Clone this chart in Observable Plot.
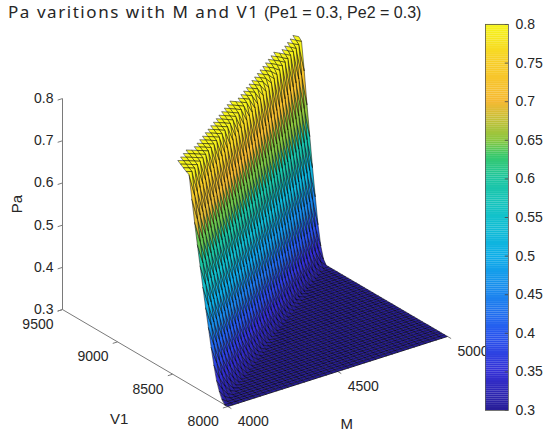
<!DOCTYPE html>
<html><head><meta charset="utf-8">
<script src="https://cdn.jsdelivr.net/npm/d3@7"></script>
<script src="https://cdn.jsdelivr.net/npm/@observablehq/plot@0.6"></script>
<style>
body{margin:0;background:#fff;}
#wrap{position:relative;width:550px;height:438px;overflow:hidden;font-family:"Liberation Sans",Arial,sans-serif;}
#title{position:absolute;left:8px;top:0px;white-space:nowrap;color:#262626;line-height:24px;}
#title .t1{font-family:"Noto Sans",sans-serif;font-size:17px;letter-spacing:1.55px;}
#title .t2{font-family:"Liberation Sans",Arial,sans-serif;font-size:16px;}
#main{position:absolute;left:0;top:0;}
#cbar{position:absolute;left:470px;top:0;}
</style></head><body>
<div id="wrap">
  <div id="main"></div>
  <div id="cbar"></div>
  <div id="title"><span class="t1">Pa varitions with M and V1</span> <span class="t2">(Pe1 = 0.3, Pe2 = 0.3)</span></div>
</div>
<script>
// ---------------- data ----------------
const Mgrid  = d3.range(4000, 5001, 25);      // surface grid in M
const V1grid = d3.range(8000, 9501, 25);      // surface grid in V1
const wallM        = [4000, 5000];            // wall foot (t = 0) and top of the rise (t = 1) at both ends of M
const wallStartV1  = [8000, 9090];
const wallEndV1    = [8350, 9320];
const profileT  = [0, 0.1, 0.2, 0.3, 0.4, 0.5, 0.6, 0.7, 0.8, 0.9, 1, 1.3];   // position across the wall
const profilePa = [0.30, 0.30, 0.32, 0.35, 0.40, 0.46, 0.52, 0.585, 0.65, 0.72, 0.795, 0.815];
const Mticks  = [4000, 4500, 5000];
const V1ticks = [8000, 8500, 9000, 9500];
const PaTicks = [0.3, 0.4, 0.5, 0.6, 0.7, 0.8];
const cbTicks = [0.3, 0.35, 0.4, 0.45, 0.5, 0.55, 0.6, 0.65, 0.7, 0.75, 0.8];
const Mdom = [4000, 5000], V1dom = [8000, 9500], Padom = [0.3, 0.8];

// parula-like colormap stops
const cmapDomain = [0.3, 0.35, 0.4, 0.45, 0.5, 0.55, 0.6, 0.63, 0.65, 0.7, 0.75, 0.8];
const cmapRange  = ["#281e96", "#3430d6", "#2758ef", "#1b86ee", "#0eaee8", "#12c2cc", "#1dc6a0", "#38c86a", "#8cc73e", "#f6b932", "#f7cd27", "#f6f51a"];
const colorScale = {type: "linear", domain: cmapDomain, range: cmapRange, clamp: true};

// ---------------- surface values on the grid ----------------
const startAt = d3.scaleLinear(wallM, wallStartV1);
const endAt   = d3.scaleLinear(wallM, wallEndV1);
const prof    = d3.scaleLinear(profileT, profilePa);
const tMax = profileT[profileT.length - 1];
function paAt(m, v) {
  const t = (v - startAt(m)) / (endAt(m) - startAt(m));
  if (t <= 0) return profilePa[0];
  if (t > tMax + 1e-9) return NaN;
  return prof(t);
}

// ---------------- 3-D view (orthographic, like MATLAB view(az, el)) ----------------
const az = -36.4 * Math.PI / 180, el = 25.7 * Math.PI / 180;
const boxAspect = [1, 1.02, 0.86];
function norm(m, v, p) {
  return [(m - Mdom[0]) / (Mdom[1] - Mdom[0]) * boxAspect[0],
          (v - V1dom[0]) / (V1dom[1] - V1dom[0]) * boxAspect[1],
          (p - Padom[0]) / (Padom[1] - Padom[0]) * boxAspect[2]];
}
function proj(m, v, p) {
  const [xs, ys, zs] = norm(m, v, p);
  return [Math.cos(az) * xs + Math.sin(az) * ys,
          -Math.sin(el) * Math.sin(az) * xs + Math.sin(el) * Math.cos(az) * ys + Math.cos(el) * zs];
}
function farness(m, v, p) {
  const [xs, ys, zs] = norm(m, v, p);
  const h = -Math.sin(az) * xs + Math.cos(az) * ys;
  return Math.cos(el) * h - Math.sin(el) * zs;
}

// box corners -> scale domains
const corners = [];
for (const m of Mdom) for (const v of V1dom) for (const p of Padom) corners.push(proj(m, v, p));
const xDom = d3.extent(corners, d => d[0]);
const yDom = d3.extent(corners, d => d[1]);

// cells
const PA = Mgrid.map(m => V1grid.map(v => paAt(m, v)));
const cells = [];
for (let i = 0; i < Mgrid.length - 1; i++) {
  for (let j = 0; j < V1grid.length - 1; j++) {
    const idx = [[i, j], [i + 1, j], [i + 1, j + 1], [i, j + 1]];
    const vals = idx.map(([a, b]) => PA[a][b]);
    if (vals.some(Number.isNaN)) continue;
    const pts = idx.map(([a, b], k) => proj(Mgrid[a], V1grid[b], vals[k]));
    const mc = (Mgrid[i] + Mgrid[i + 1]) / 2, vc = (V1grid[j] + V1grid[j + 1]) / 2, pc = d3.mean(vals);
    cells.push({pts, c: vals[0], f: farness(mc, vc, pc)});
  }
}
cells.sort((a, b) => b.f - a.f);
const rows = [];
cells.forEach((c, k) => c.pts.forEach(([X, Y]) => rows.push({id: k, X, Y, pa: c.c})));

// axes geometry
const P = (m, v, p) => { const [X, Y] = proj(m, v, p); return {X, Y}; };
const axisLines = [
  {a: P(4000, 8000, 0.3), b: P(5000, 8000, 0.3)},
  {a: P(4000, 8000, 0.3), b: P(4000, 9500, 0.3)},
  {a: P(4000, 9500, 0.3), b: P(4000, 9500, 0.8)}
];
const tickLen = 0.022;
const mTickData  = Mticks.map(m => ({a: P(m, 8000, 0.3), b: P(m, 8000 - tickLen * 1500, 0.3), label: String(m)}));
const vTickData  = V1ticks.map(v => ({a: P(4000, v, 0.3), b: P(4000 - tickLen * 1000, v, 0.3), label: String(v)}));
const pTickData  = PaTicks.map(p => ({a: P(4000, 9500, p), b: P(4000 - tickLen * 1000, 9500, p), label: String(p)}));
const axisGray = "#7a7a7a";
const txt = "#262626";

const main = Plot.plot({
  width: 550, height: 438,
  marginLeft: 62, marginRight: 103, marginTop: 28, marginBottom: 32,
  x: {domain: xDom, axis: null},
  y: {domain: yDom, axis: null},
  color: colorScale,
  style: {fontFamily: "'Liberation Sans', Arial, sans-serif", fontSize: "14px", color: txt, background: "transparent", overflow: "visible"},
  marks: [
    Plot.link(axisLines, {x1: d => d.a.X, y1: d => d.a.Y, x2: d => d.b.X, y2: d => d.b.Y, stroke: axisGray, strokeWidth: 1}),
    Plot.link([...mTickData, ...vTickData, ...pTickData], {x1: d => d.a.X, y1: d => d.a.Y, x2: d => d.b.X, y2: d => d.b.Y, stroke: axisGray, strokeWidth: 1}),
    Plot.line(rows, {x: "X", y: "Y", z: "id", fill: "pa", stroke: "#000", strokeWidth: 0.5, strokeOpacity: 0.95, curve: "linear-closed"}),
    Plot.text(mTickData, {x: d => d.a.X, y: d => d.a.Y, text: "label", textAnchor: "start", dx: 10, dy: 15, fill: txt}),
    Plot.text(vTickData, {x: d => d.a.X, y: d => d.a.Y, text: "label", textAnchor: "end", dx: -9, dy: 15, fill: txt}),
    Plot.text(pTickData, {x: d => d.a.X, y: d => d.a.Y, text: "label", textAnchor: "end", dx: -9, dy: 0, fill: txt}),
    Plot.text([P(4500, 8000, 0.3)], {x: "X", y: "Y", text: ["M"], dx: 9, dy: 53, fill: txt, fontSize: 15}),
    Plot.text([P(4000, 8750, 0.3)], {x: "X", y: "Y", text: ["V1"], dx: -26, dy: 61, fill: txt, fontSize: 15}),
    Plot.text([P(4000, 9500, 0.55)], {x: "X", y: "Y", text: ["Pa"], dx: -45, dy: 0, rotate: -90, fill: txt, fontSize: 15})
  ]
});
document.getElementById("main").appendChild(main);

// ---------------- colorbar ----------------
const cbStep = 0.0025;
const cbBins = d3.range(Padom[0], Padom[1] - 1e-9, cbStep);
const cbar = Plot.plot({
  width: 80, height: 438,
  marginLeft: 15, marginRight: 42, marginTop: 24, marginBottom: 28,
  x: {domain: [0, 1], axis: null},
  y: {domain: Padom},
  color: colorScale,
  style: {fontFamily: "'Liberation Sans', Arial, sans-serif", fontSize: "14px", color: txt, background: "transparent", overflow: "visible"},
  marks: [
    Plot.rect(cbBins, {x1: 0, x2: 1, y1: d => d, y2: d => d + cbStep * 1.05, fill: d => d + cbStep / 2}),
    Plot.ruleY(cbTicks, {x1: 0.86, x2: 1, stroke: "#444", strokeWidth: 0.8}),
    Plot.frame({stroke: "#555", strokeWidth: 0.8}),
    Plot.axisY(cbTicks, {anchor: "right", tickSize: 0, tickPadding: 7, tickFormat: d => String(+d.toFixed(2)), label: null, fill: txt})
  ]
});
document.getElementById("cbar").appendChild(cbar);
</script>
</body></html>
